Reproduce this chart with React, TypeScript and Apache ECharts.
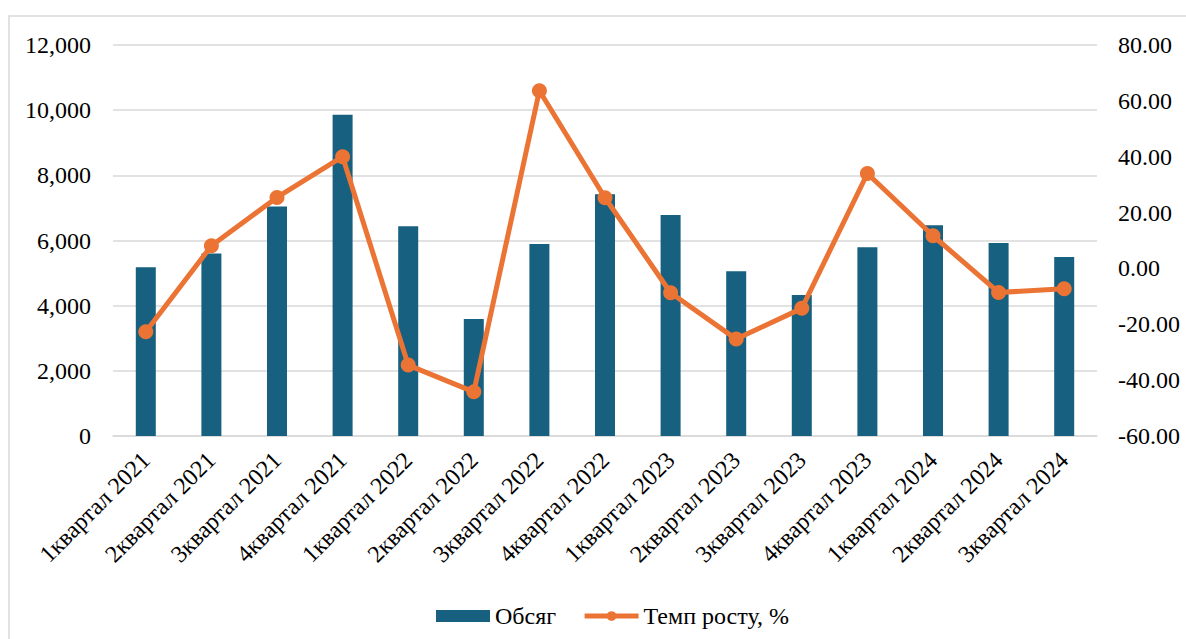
import React, { useEffect, useRef } from "react";
import * as echarts from "echarts";

const categories = [
  "1квартал 2021", "2квартал 2021", "3квартал 2021", "4квартал 2021",
  "1квартал 2022", "2квартал 2022", "3квартал 2022", "4квартал 2022",
  "1квартал 2023", "2квартал 2023", "3квартал 2023", "4квартал 2023",
  "1квартал 2024", "2квартал 2024", "3квартал 2024",
];
const volume = [5180, 5600, 7040, 9860, 6440, 3590, 5890, 7420, 6780, 5060, 4330, 5790, 6470, 5920, 5490];
const growth = [-22.7, 8.1, 25.4, 40.0, -34.6, -44.2, 63.6, 25.3, -8.7, -25.3, -14.3, 34.0, 11.7, -8.6, -7.3];
const seriesNames = ["Обсяг", "Темп росту, %"];

const FONT = "'Liberation Serif', 'Times New Roman', serif";
const ORANGE = "#EB7434";

export default function App() {
  const ref = useRef<HTMLDivElement>(null);
  useEffect(() => {
    const chart = echarts.init(ref.current!, null, { renderer: "svg" });
    chart.setOption({
      animation: false,
      backgroundColor: "#ffffff",
      textStyle: { fontFamily: FONT },
      graphic: [
        {
          type: "rect",
          shape: { x: 9, y: 16, width: 1190, height: 700 },
          style: { fill: "none", stroke: "#d9d9d9", lineWidth: 1.5 },
          silent: true,
          z: -1,
        },
      ],
      grid: { left: 113, right: 89, top: 45, bottom: 203 },
      legend: {
        left: 431,
        top: 599,
        itemWidth: 54,
        itemHeight: 12,
        itemGap: 26,
        textStyle: { fontFamily: FONT, fontSize: 24, color: "#000" },
        data: [
          { name: seriesNames[0], icon: "rect" },
          { name: seriesNames[1], lineStyle: { width: 5, color: ORANGE } },
        ],
      },
      xAxis: {
        type: "category",
        data: categories,
        axisLine: { show: true, lineStyle: { color: "#d9d9d9", width: 1.5 } },
        axisTick: { show: false },
        axisLabel: {
          rotate: 45,
          interval: 0,
          margin: 20,
          fontFamily: FONT,
          fontSize: 24,
          color: "#000",
        },
      },
      yAxis: [
        {
          type: "value",
          min: 0,
          max: 12000,
          interval: 2000,
          axisLine: { show: false },
          axisTick: { show: false },
          splitLine: { lineStyle: { color: "#d9d9d9", width: 1.5 } },
          axisLabel: {
            margin: 22,
            fontFamily: FONT,
            fontSize: 24,
            color: "#000",
            formatter: (v: number) => v.toLocaleString("en-US"),
          },
        },
        {
          type: "value",
          min: -60,
          max: 80,
          interval: 20,
          axisLine: { show: false },
          axisTick: { show: false },
          splitLine: { show: false },
          axisLabel: {
            margin: 21,
            fontFamily: FONT,
            fontSize: 24,
            color: "#000",
            formatter: (v: number) => v.toFixed(2),
          },
        },
      ],
      series: [
        {
          name: seriesNames[0],
          type: "bar",
          data: volume,
          barWidth: 20,
          itemStyle: { color: "#17607F" },
          yAxisIndex: 0,
        },
        {
          name: seriesNames[1],
          type: "line",
          data: growth,
          yAxisIndex: 1,
          symbol: "circle",
          symbolSize: 15,
          lineStyle: { color: ORANGE, width: 5 },
          itemStyle: { color: ORANGE },
          z: 3,
        },
      ],
    });
    return () => chart.dispose();
  }, []);
  return (
    <div
      ref={ref}
      style={{ position: "fixed", left: 0, top: 0, width: 1186, height: 639 }}
    />
  );
}
